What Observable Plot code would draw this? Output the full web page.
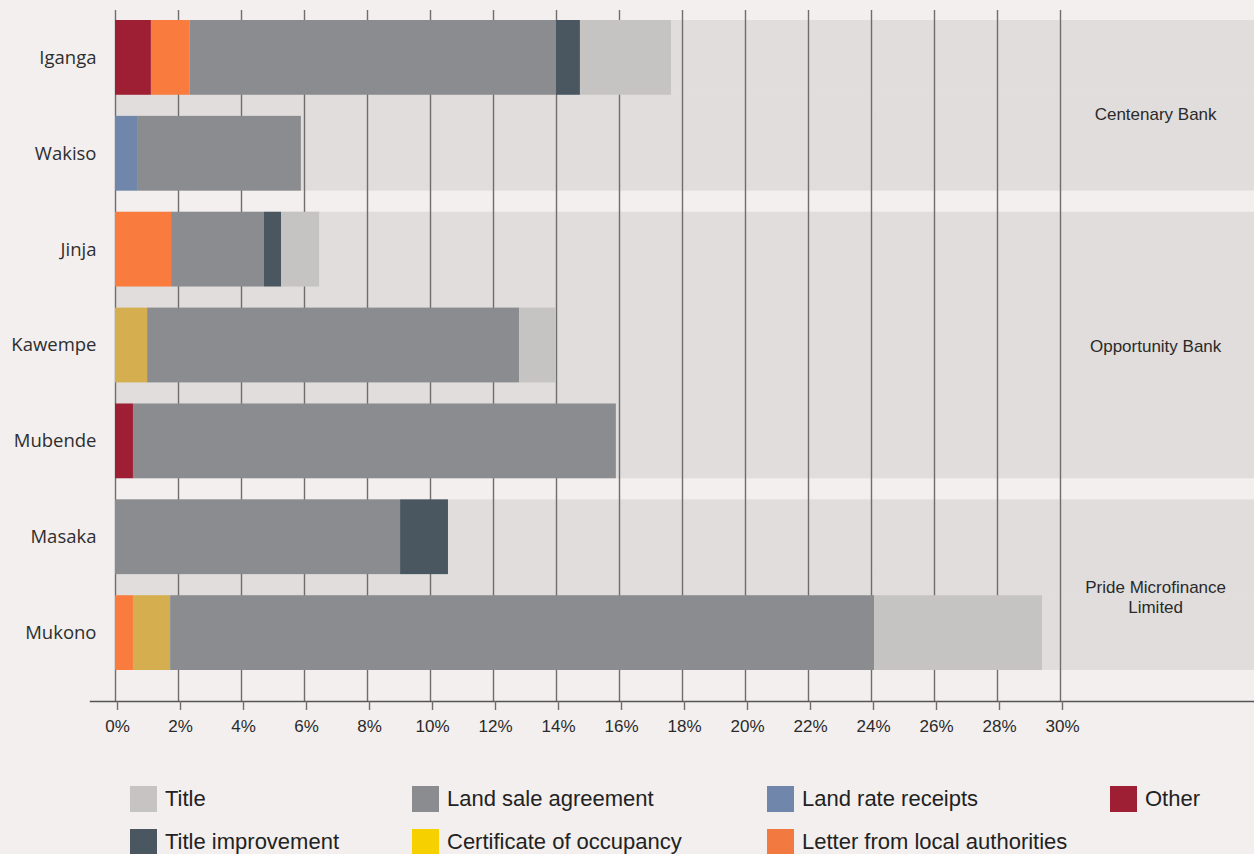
<!DOCTYPE html>
<html>
<head>
<meta charset="utf-8">
<script src="https://cdn.jsdelivr.net/npm/d3@7"></script>
<script src="https://cdn.jsdelivr.net/npm/@observablehq/plot@0.6"></script>
<style>
  html, body { margin: 0; padding: 0; background: #f2efee; }
  #wrap { position: relative; width: 1254px; height: 854px; overflow: hidden; background: #f2efee; }
  #chart svg { display: block; }
  .legend { position: absolute; left: 0; top: 0; font-family: "Liberation Sans", Arial, sans-serif; font-size: 22px; color: #222; }
  .item { position: absolute; display: flex; align-items: center; height: 27px; white-space: nowrap; }
  .sw { width: 27px; height: 26px; margin-right: 8px; flex: none; }
</style>
</head>
<body>
<div id="wrap">
  <div id="chart"></div>
  <div class="legend" id="legend"></div>
</div>
<script>
// ---- data ----
const rows = ["Iganga", "Wakiso", "Jinja", "Kawempe", "Mubende", "Masaka", "Mukono"];
const groupOf = ["Centenary Bank", "Centenary Bank", "Opportunity Bank", "Opportunity Bank", "Opportunity Bank", "Pride Microfinance Limited", "Pride Microfinance Limited"];
const types = ["Other", "Letter from local authorities", "Land rate receipts", "Certificate of occupancy", "Land sale agreement", "Title improvement", "Title"];
// percentages per row (same order as rows)
const other            = [1.14, 0,    0,    0,     0.57,  0,    0];
const letter           = [1.23, 0,    1.78, 0,     0,     0,    0.57];
const landRate         = [0,    0.70, 0,    0,     0,     0,    0];
const certificate      = [0,    0,    0,    1.02,  0,     0,    1.18];
const landSale         = [11.63, 5.20, 2.95, 11.81, 15.33, 9.05, 22.35];
const titleImprovement = [0.76, 0,    0.54, 0,     0,     1.52, 0];
const title            = [2.89, 0,    1.21, 1.17,  0,     0,    5.33];
const tickValues = [0, 2, 4, 6, 8, 10, 12, 14, 16, 18, 20, 22, 24, 26, 28, 30];
const groupLabels = [
  {label: "Centenary Bank", row: "Iganga"},
  {label: "Opportunity Bank", row: "Kawempe"},
  {label: "Pride Microfinance\nLimited", row: "Masaka"}
];
const legendRows = [
  ["Title", "Land sale agreement", "Land rate receipts", "Other"],
  ["Title improvement", "Certificate of occupancy", "Letter from local authorities"]
];

// ---- styles ----
const barColors = ["#9e1f33", "#f97c3e", "#7087ab", "#d5ae50", "#8b8c90", "#4a5660", "#c5c4c2"];
const legendColors = {"Title": "#c5c4c2", "Land sale agreement": "#8b8c90", "Land rate receipts": "#7087ab", "Other": "#9e1f33",
  "Title improvement": "#4a5660", "Certificate of occupancy": "#f7d000", "Letter from local authorities": "#f27a40"};
const bandFill = "#e0dddc";

const series = [other, letter, landRate, certificate, landSale, titleImprovement, title];
const data = [];
rows.forEach((r, i) => {
  types.forEach((t, j) => {
    const v = series[j][i];
    if (v > 0) data.push({row: r, type: t, value: v});
  });
});

const xMin = -0.794, xMax = 36.159;
const common = {
  width: 1254, height: 750,
  marginTop: 10, marginLeft: 90, marginRight: 0, marginBottom: 49,
  style: {background: "transparent", fontFamily: "Liberation Sans, Arial, sans-serif"},
  x: {domain: [xMin, xMax]},
  y: {domain: rows, insetTop: 10, insetBottom: 31, paddingInner: 0.22, paddingOuter: 0, round: false}
};

const probe = Plot.plot({...common, marks: [Plot.barX(rows, {y: d => d, x: 1})]});
const ys = probe.scale("y");
const bw = ys.bandwidth;
const gap = ys.step - ys.bandwidth;

const bg = rows.map((r) => ({row: r}));
const gapRows = rows.filter((r, i) => i < rows.length - 1 && groupOf[i] === groupOf[i + 1]).map(r => ({row: r}));

const groupDy = {"Iganga": ys.step / 2 + 8, "Kawempe": 0, "Masaka": ys.step / 2 + 11};

const chart = Plot.plot({
  ...common,
  color: {domain: types, range: barColors},
  marks: [
    Plot.barX(bg, {y: "row", x1: () => 0, x2: () => xMax, fill: bandFill}),
    Plot.barX(gapRows, {y: "row", x1: () => 0, x2: () => xMax, fill: bandFill, insetTop: bw - 0.5, insetBottom: -gap - 0.5}),
    Plot.ruleX(tickValues, {stroke: "#6e6e6e", strokeWidth: 1.4}),
    Plot.barX(data, {x: "value", y: "row", fill: "type"}),
    ...groupLabels.map(g => Plot.text([g], {
      x: () => 33.02, y: "row", text: "label", dy: groupDy[g.row],
      fontSize: 17, fill: "#2a2a2a", lineHeight: 1.18, fontFamily: "Liberation Sans, Arial, sans-serif"
    })),
    Plot.frame({anchor: "bottom", stroke: "#555", strokeWidth: 1.4}),
    Plot.axisX({ticks: tickValues, tickFormat: d => d + "%", tickSize: 9, tickPadding: 9, stroke: "#6e6e6e",
      fontSize: 17, fill: "#2a2a2a", label: null, strokeWidth: 1.4, dx: 2}),
    Plot.axisY({tickSize: 0, tickPadding: 0, dx: 6, fontSize: 18.5, fill: "#2e2e2e", label: null,
      fontFamily: "Open Sans, sans-serif"})
  ]
});
document.getElementById("chart").appendChild(chart);

// ---- legend ----
const colX = [130, 412, 767, 1110];
const rowY = [785, 828];
const leg = document.getElementById("legend");
legendRows.forEach((items, ri) => {
  items.forEach((name, ci) => {
    const el = document.createElement("div");
    el.className = "item";
    el.style.left = colX[ci] + "px";
    el.style.top = rowY[ri] + "px";
    const sw = document.createElement("span");
    sw.className = "sw";
    sw.style.background = legendColors[name];
    const tx = document.createElement("span");
    tx.textContent = name;
    el.appendChild(sw);
    el.appendChild(tx);
    leg.appendChild(el);
  });
});
</script>
</body>
</html>
